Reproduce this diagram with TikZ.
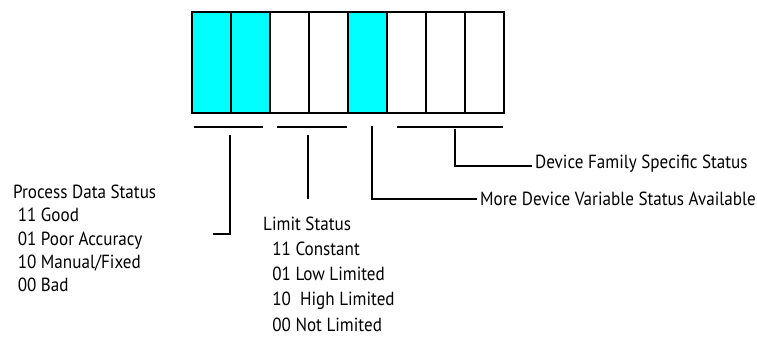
\documentclass[tikz,border=0pt]{standalone}
\usepackage{fontspec}
\setmainfont{PT Sans}[FakeStretch=0.9]
\definecolor{cellcyan}{RGB}{0,255,255}
\begin{document}
\begin{tikzpicture}[x=1pt,y=-1pt,
  cellbox/.style={draw=black,line width=2pt,minimum width=39pt,minimum height=101pt,inner sep=0pt,anchor=north west},
  oncell/.style={cellbox,fill=cellcyan},
  bar/.style={line width=2pt},
  conn/.style={line width=2pt},
  lbl/.style={inner sep=0pt,anchor=base west,font=\fontsize{19}{22}\selectfont}]
\useasboundingbox (0,0) rectangle (757,339);
% register cells
\foreach \i/\s in {0/oncell,1/oncell,2/cellbox,3/cellbox,4/oncell,5/cellbox,6/cellbox,7/cellbox}{
  \node[\s] (c\i) at ({191+39*\i},11) {};
}
% bars
\coordinate (b1l) at (194,127.5); \coordinate (b1r) at (263,127.5);
\coordinate (b2l) at (277,127.5); \coordinate (b2r) at (347,127.5);
\coordinate (b4l) at (397,127.5); \coordinate (b4r) at (503,127.5);
\draw[bar] (b1l) -- (b1r);
\draw[bar] (b2l) -- (b2r);
\draw[bar] (b4l) -- (b4r);
% labels
\node[lbl] (pds) at (13,199) {Process Data Status};
\node[lbl] (pds1) at (13,222) {\ 11 Good};
\node[lbl] (pds2) at (13,245) {\ 01 Poor Accuracy};
\node[lbl] (pds3) at (13,268) {\ 10 Manual/Fixed};
\node[lbl] (pds4) at (13,291) {\ 00 Bad};
\node[lbl] (ls) at (263,230) {Limit Status};
\node[lbl] (ls1) at (263,255.3) {\ \ 11 Constant};
\node[lbl] (ls2) at (263,280.6) {\ \ 01 Low Limited};
\node[lbl] (ls3) at (263,305.9) {\ \ 10\ \ High Limited};
\node[lbl] (ls4) at (263,331.2) {\ \ 00 Not Limited};
\node[lbl] (dfs) at (535,169) {Device Family Specific Status};
\node[lbl] (mdv) at (480,205) {More Device Variable Status Available};
% connectors
\coordinate (v1t) at (230,135); \coordinate (v1e) at (213,234);
\coordinate (v2t) at (308,135); \coordinate (v2e) at (308,199);
\coordinate (v3t) at (372,126.5); \coordinate (v3e) at (477,198.7);
\coordinate (v4t) at (455,129); \coordinate (v4e) at (532,166);
\draw[conn] (v1t) |- (v1e);
\draw[conn] (v2t) -- (v2e);
\draw[conn] (v3t) |- (v3e);
\draw[conn] (v4t) |- (v4e);
\end{tikzpicture}
\end{document}
